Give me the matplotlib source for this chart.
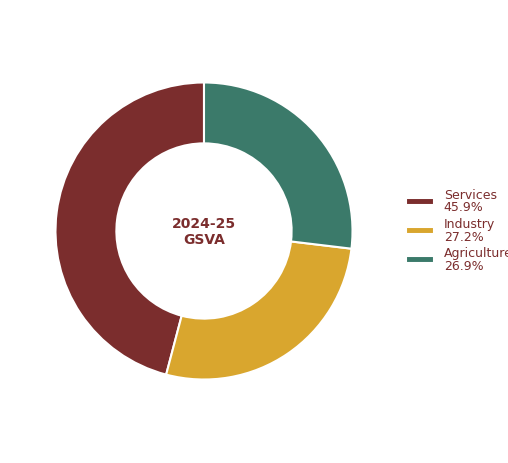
import matplotlib
matplotlib.use("Agg")
import matplotlib.pyplot as plt

categories = ["Services", "Industry", "Agriculture"]
shares = [45.9, 27.2, 26.9]
colors = ["#7b2d2d", "#d9a62e", "#3b7a6a"]

fig = plt.figure(figsize=(5.08, 4.64), dpi=100)
ax = fig.add_axes([54/508, 1-382/464, 300/508, 300/464])
wedges, _ = ax.pie(shares, colors=colors, startangle=90, counterclock=True,
                   wedgeprops=dict(width=0.41, edgecolor="white", linewidth=1.5))
ax.set_aspect("equal")
ax.set_xlim(-1.01, 1.01)
ax.set_ylim(-1.01, 1.01)
ax.text(0, 0, "2024-25\nGSVA", ha="center", va="center", fontsize=10,
        fontweight="bold", color="#7b2d2d", linespacing=1.1)
labels = [f"{c}\n{v}%" for c, v in zip(categories, shares)]
leg = fig.legend(wedges, labels, loc="center left", bbox_to_anchor=(395/508, 1-231/464),
                 frameon=False, fontsize=9, handlelength=2.2, handleheight=0.5,
                 labelspacing=0.3)
for t in leg.get_texts():
    t.set_color("#7b2d2d")
    t.set_linespacing(0.95)
fig.savefig("out.png", dpi=100)
